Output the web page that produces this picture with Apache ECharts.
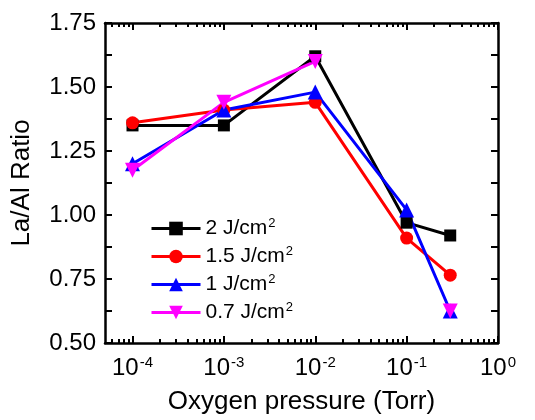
<!DOCTYPE html>
<html>
<head>
<meta charset="utf-8">
<script src="https://cdn.jsdelivr.net/npm/echarts@6/dist/echarts.min.js"></script>
<style>
html,body{margin:0;padding:0;background:#fff;}
#chart{width:535px;height:420px;}
</style>
</head>
<body>
<div id="chart"></div>
<script>
// oxygen pressure (Torr)
var pressures = [1e-4, 1e-3, 1e-2, 1e-1, 0.3];
// La/Al ratio per fluence
var ratio2 = [1.35, 1.35, 1.62, 0.97, 0.92];
var ratio15 = [1.36, 1.41, 1.44, 0.91, 0.765];
var ratio1 = [1.20, 1.41, 1.48, 1.02, 0.625];
var ratio07 = [1.175, 1.44, 1.60, null, 0.625];
var seriesNames = ['2 J/cm²', '1.5 J/cm²', '1 J/cm²', '0.7 J/cm²'];
// x axis ticks
var majorTicks = [1e-4, 1e-3, 1e-2, 1e-1, 1];
var minorTicks = [6e-5, 7e-5, 8e-5, 9e-5,
    2e-4, 3e-4, 4e-4, 5e-4, 6e-4, 7e-4, 8e-4, 9e-4,
    2e-3, 3e-3, 4e-3, 5e-3, 6e-3, 7e-3, 8e-3, 9e-3,
    2e-2, 3e-2, 4e-2, 5e-2, 6e-2, 7e-2, 8e-2, 9e-2,
    0.2, 0.3, 0.4, 0.5, 0.6, 0.7, 0.8, 0.9];

var FONT = 'Arial, "Liberation Sans", sans-serif';

function pairs(ys){
    return pressures.map(function(p, i){
        return [p, ys[i] == null ? '-' : ys[i]];
    });
}

function xAxisBase(pos, ticks, len, showLine, showLabel){
    return {
        type: 'log', logBase: 10, min: 5e-5, max: 1, position: pos,
        axisLine: {show: showLine, onZero: false, lineStyle: {color: '#000', width: 2.5}},
        axisTick: {show: true, inside: true, length: len, customValues: ticks,
            lineStyle: {color: '#000', width: 2}},
        minorTick: {show: false},
        splitLine: {show: false},
        axisLabel: {show: showLabel}
    };
}

var xBottom = xAxisBase('bottom', majorTicks, 7, true, true);
xBottom.axisLabel = {
    show: true, customValues: majorTicks, margin: 12,
    formatter: function(v){
        return '{b|10}{s|' + Math.round(Math.log10(v)) + '}';
    },
    rich: {
        b: {fontFamily: FONT, fontSize: 24, color: '#000', lineHeight: 26},
        s: {fontFamily: FONT, fontSize: 15, color: '#000', verticalAlign: 'top', lineHeight: 26, padding: [0, 0, 10, 1]}
    }
};
xBottom.name = 'Oxygen pressure (Torr)';
xBottom.nameLocation = 'middle';
xBottom.nameGap = 46;
xBottom.nameTextStyle = {fontFamily: FONT, fontSize: 26, color: '#000'};

function yAxisBase(pos, showLabel){
    return {
        type: 'value', min: 0.5, max: 1.75, interval: 0.25, position: pos,
        axisLine: {show: true, onZero: false, lineStyle: {color: '#000', width: 2.5}},
        axisTick: {show: true, inside: true, length: 7, lineStyle: {color: '#000', width: 2}},
        minorTick: {show: true, splitNumber: 2, length: 7, lineStyle: {color: '#000', width: 2}},
        splitLine: {show: false},
        axisLabel: {show: showLabel, margin: 9, fontFamily: FONT, fontSize: 24, color: '#000',
            formatter: function(v){ return v.toFixed(2); }}
    };
}

var yLeft = yAxisBase('left', true);
yLeft.name = 'La/Al Ratio';
yLeft.nameLocation = 'middle';
yLeft.nameGap = 70;
yLeft.nameTextStyle = {fontFamily: FONT, fontSize: 26, color: '#000'};

var colors = ['#000000', '#ff0000', '#0000ff', '#ff00ff'];
var symbols = ['rect', 'circle', 'triangle', 'triangle'];
var sizes = [12, 13, 15, 15];
var rotates = [0, 0, 0, 180];
var allData = [ratio2, ratio15, ratio1, ratio07];

var chart = echarts.init(document.getElementById('chart'), null, {renderer: 'canvas'});
chart.setOption({
    animation: false,
    backgroundColor: '#fff',
    grid: {left: 105, right: 37, top: 23, bottom: 72, containLabel: false},
    xAxis: [
        xBottom,
        xAxisBase('bottom', minorTicks, 4, false, false),
        xAxisBase('top', majorTicks, 7, true, false),
        xAxisBase('top', minorTicks, 4, false, false)
    ],
    yAxis: [yLeft, yAxisBase('right', false)],
    legend: {
        orient: 'vertical', left: 145, top: 212, itemWidth: 49, itemHeight: 17, itemGap: 6,
        data: seriesNames,
        lineStyle: {width: 3},
        textStyle: {fontFamily: FONT, fontSize: 21, color: '#000',
            rich: {
                b: {fontFamily: FONT, fontSize: 21, color: '#000', lineHeight: 23},
                s: {fontFamily: FONT, fontSize: 13, color: '#000', verticalAlign: 'top', lineHeight: 23, padding: [0, 0, 9, 1]}
            }},
        formatter: function(name){
            return '{b|' + name.replace('²', '') + '}{s|2}';
        }
    },
    series: allData.map(function(d, i){
        return {
            name: seriesNames[i], type: 'line', data: pairs(d),
            xAxisIndex: 0, yAxisIndex: 0,
            symbol: symbols[i], symbolSize: sizes[i], symbolRotate: rotates[i],
            connectNulls: false,
            itemStyle: {color: colors[i]},
            lineStyle: {color: colors[i], width: 3}
        };
    })
});
</script>
</body>
</html>
